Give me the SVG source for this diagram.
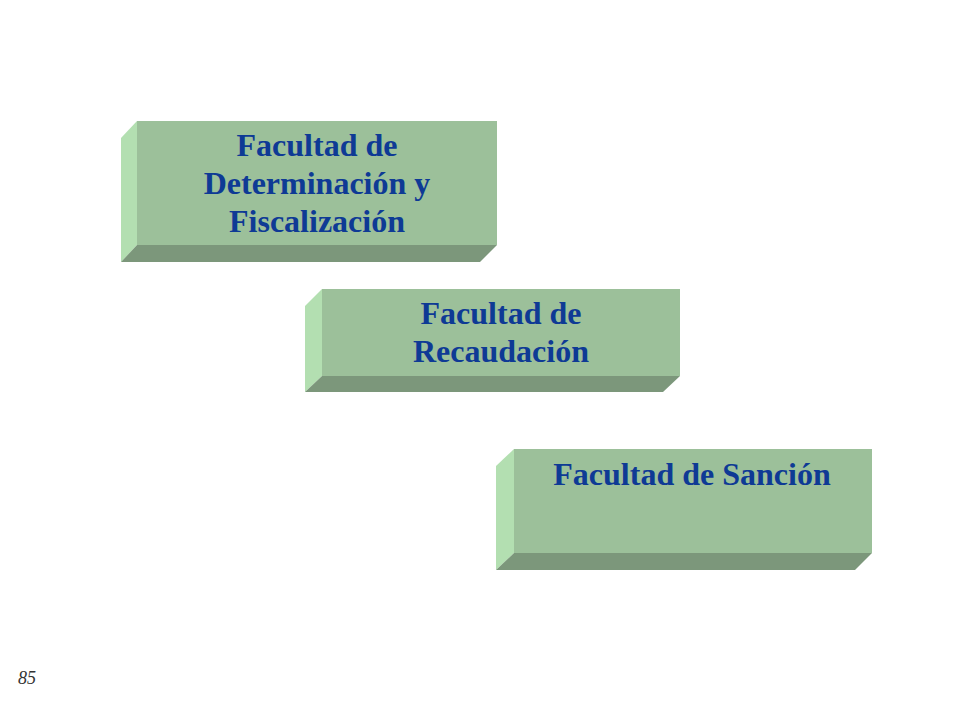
<svg xmlns="http://www.w3.org/2000/svg" width="960" height="720" viewBox="0 0 960 720">
<style>
.front{fill:#9cc09a}
.side{fill:#b3dfb1}
.bottom{fill:#7c977b}
.lbl{font-family:"Liberation Serif","Times New Roman",serif;font-weight:bold;font-size:32px;fill:#0e3a95;text-anchor:middle}
.pg{font-family:"Liberation Serif","Times New Roman",serif;font-style:italic;font-size:18px;fill:#333}
</style>
<rect width="960" height="720" fill="#ffffff"/>
<g id="node1">
<polygon class="side" points="137,121 121,138 121,262 137,245"/>
<polygon class="bottom" points="137,245 497,245 480,262 121,262"/>
<rect class="front" x="137" y="121" width="360" height="124"/>
<text class="lbl" x="317" y="156">Facultad de</text>
<text class="lbl" x="317" y="194">Determinación y</text>
<text class="lbl" x="317" y="232">Fiscalización</text>
</g>
<g id="node2">
<polygon class="side" points="322,289 305,306 305,392 322,376"/>
<polygon class="bottom" points="322,376 680,376 663,392 305,392"/>
<rect class="front" x="322" y="289" width="358" height="87"/>
<text class="lbl" x="501" y="324">Facultad de</text>
<text class="lbl" x="501" y="362">Recaudación</text>
</g>
<g id="node3">
<polygon class="side" points="514,449 496,466 496,570 514,553"/>
<polygon class="bottom" points="514,553 872,553 855,570 496,570"/>
<rect class="front" x="514" y="449" width="358" height="104"/>
<text class="lbl" x="692" y="485">Facultad de Sanción</text>
</g>
<g id="connectors"></g>
<text class="pg" x="18" y="684">85</text>
</svg>
